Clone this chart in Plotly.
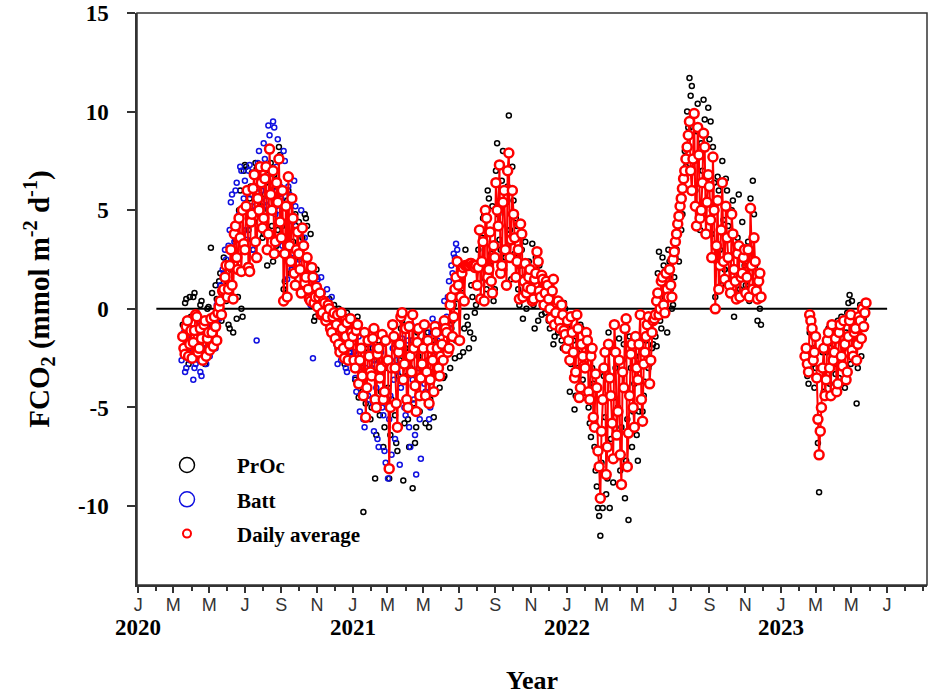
import plotly.graph_objs as go
import pandas as pd

# FCO2 (mmol m-2 d-1).
# Two interleaved samplings (a / b), each one value every 4 days.
avg_start_a = "2020-03-17"
avg_vals_a = [
    -1.4, -2.3, -0.6, -1.8,                          # Mar 2020
    -2.5, -1.1, -0.4, -2.0, -1.5, -0.8, -2.4, -1.2,  # Apr
    -0.5, -1.9, -0.9, -0.2, 0.4, 0.9, 1.6,           # May
    0.6, 2.2, 1.2, 3.8, 2.6, 4.6, 1.9, 3.3,          # Jun
    5.2, 2.1, 4.4, 6.1, 3.4, 5.6, 7.2, 4.1,          # Jul
    6.6, 3.0, 8.1, 5.0, 2.8, 6.4, 7.6,               # Aug
    3.6, 0.4, 5.2, 6.7, 2.4, 4.6, 1.2, 3.9,          # Sep
    2.0, 4.1, 1.3, 2.6, 0.5, 2.1, 0.3, 1.1,          # Oct
    0.6, -0.3, 0.4, -0.6, 0.2, -1.0, -0.4,           # Nov
    -1.5, -0.3, -2.2, -1.0, -2.5, -0.7, -1.8, -1.2,  # Dec
    -2.6, -1.1, -3.8, -2.0, -4.4, -5.5, -1.6, -3.2,  # Jan 2021
    -1.5, -4.6, -2.3, -3.5, -1.3, -4.2, -2.7,        # Feb
    -8.1, -3.0, -1.4, -4.8, -2.2, -0.4, -3.6,        # Mar
    -1.0, -5.0, -2.4, -0.3, -3.9, -1.7, -4.4, -2.8,  # Apr
    -0.8, -3.2, -4.8, -2.0, -4.2, -1.2, -3.0, -2.4,  # May
    -2.6, -1.0, -2.2, 0.2, -1.4, 1.0, 2.4,           # Jun
    -1.6, 1.8, 0.4, 2.2, 2.2, 2.3, 2.2, 2.2,         # Jul
    2.1, 0.5, 3.4, 5.0, 1.6, 3.9, 0.8, 2.6,          # Aug
    5.0, 7.3, 2.2, 6.0, 1.2, 7.9, 3.5,               # Sep
    4.8, 1.6, 3.0, 4.3, 0.6, 2.3, 1.1, 2.0,          # Oct
    0.4, 1.5, 2.9, 0.9, 1.7, 0.2, 1.4,               # Nov
    0.5, -0.5, 1.5, -0.2, 0.4, -1.0, -0.3, -1.3,     # Dec
    -0.6, -2.6, -1.2, -3.5, -0.3, -4.5, -1.8, -2.9,  # Jan 2022
    -1.2, -4.2, -2.4, -5.5, -3.3, -7.2, -9.6,        # Feb
    -4.6, -2.2, -7.0, -3.5, -5.8, -0.8, -6.4, -2.6,  # Mar
    -8.9, -4.0, -0.5, -6.3, -2.3, -5.0, -1.4,        # Apr
    -3.6, -0.3, -5.7, -2.2, -0.8, -3.8, -1.2, -0.5,  # May
    0.4, -0.3, 1.4, 0.2, 1.8, 0.6, 1.2,              # Jun
    2.5, 3.4, 4.3, 5.2, 6.1, 7.0, 8.2, 9.5,          # Jul
    6.0, 9.9, 4.2, 7.8, 5.0, 8.9, 3.8, 6.8,          # Aug
    4.5, 7.7, 0.0, 5.5, 2.2, 6.4, 1.5,               # Sep
    3.6, 1.2, 4.8, 2.0, 0.5, 3.2, 1.6, 2.6,          # Oct
    0.8, 3.0, 5.1, 1.0, 2.4, 0.5, 1.8,               # Nov
]
avg_start_b = "2020-03-19"
avg_vals_b = [
    -2.0, -0.9, -2.4, -1.1,                          # Mar 2020
    -1.7, -0.3, -2.2, -1.0, -2.6, -0.6, -1.5,        # Apr
    -2.1, -1.2, -0.4, -1.6, 0.1, -0.3, 1.0, 2.2,     # May
    1.0, 3.0, 0.5, 4.2, 2.0, 3.6, 5.0,               # Jun
    3.0, 6.0, 1.9, 4.8, 6.8, 2.6, 5.0, 6.4,          # Jul
    4.6, 7.2, 3.8, 5.8, 7.0, 3.4, 5.4, 4.4,          # Aug
    6.0, 2.8, 0.6, 3.2, 5.6, 1.8, 3.0,               # Sep
    2.8, 0.8, 3.2, 1.6, 1.0, 0.4, 1.6, 0.6,          # Oct
    0.1, 0.8, -0.2, 0.3, -0.4, 0.0, -1.2, -0.2,      # Nov
    -0.8, -1.8, -0.2, -2.0, -1.4, -2.6, -0.5,        # Dec
    -1.4, -3.0, -0.8, -2.6, -3.4, -1.2, -4.0, -2.4,  # Jan 2021
    -3.4, -1.0, -5.0, -2.0, -3.0, -4.6, -1.6,        # Feb
    -2.6, -5.0, -0.8, -3.0, -6.0, -1.8, -0.2, -2.8,  # Mar
    -4.6, -0.9, -3.2, -2.0, -5.2, -1.0, -3.5,        # Apr
    -2.0, -4.4, -1.6, -3.6, -2.6, -0.9, -2.0, -3.4,  # May
    -1.8, -0.6, -1.2, -2.0, 0.6, -0.4, 1.6, 1.2,     # Jun
    0.6, 2.1, 2.2, 2.2, 2.3, 2.2, 2.1,               # Jul
    1.2, 4.0, 2.4, 0.4, 4.6, 2.0, 1.4, 3.2,          # Aug
    6.4, 4.2, 1.8, 5.4, 3.0, 7.0, 2.6, 6.0,          # Sep
    3.6, 2.4, 0.5, 3.8, 1.4, 0.8, 1.6,               # Oct
    1.0, 0.5, 1.8, 2.4, 0.6, 1.5, 0.8, 1.2,          # Nov
    0.0, 0.9, -0.8, 0.3, -0.6, 0.2, -1.1, -2.0,      # Dec
    -1.6, -0.4, -2.2, -3.2, -1.0, -4.0, -2.4,        # Jan 2022
    -3.0, -1.6, -4.6, -2.0, -6.0, -4.0, -8.0,        # Feb
    -6.2, -3.0, -8.4, -1.8, -4.4, -7.6, -2.2, -5.2,  # Mar
    -7.4, -3.2, -1.0, -8.0, -4.4, -1.8, -6.0, -3.0,  # Apr
    -1.8, -4.6, -2.8, -1.4, -0.4, -2.6, -0.6,        # May
    -0.3, 0.8, 0.0, 1.6, -0.2, 1.0, 2.0, 0.6,        # Jun
    2.9, 3.8, 4.7, 5.6, 6.6, 7.6, 8.8, 7.0,          # Jul
    7.6, 5.2, 9.2, 4.6, 6.4, 8.2, 5.4,               # Aug
    6.2, 2.6, 5.0, 3.2, 1.0, 4.0, 2.4, 5.2,          # Sep
    2.6, 0.8, 3.8, 1.4, 2.8, 0.6, 1.8, 3.0,          # Oct
    1.6, 0.6, 2.2, 3.6, 0.9, 1.4, 0.6,               # Nov
]
avg_start_2023_a = "2023-02-11"
avg_vals_2023_a = [-2.4, -2.8, -0.3, -1.0, -2.2, -3.5, -7.4, -5.0, -2.0, -3.6,
                   -1.2, -4.4, -2.6, -1.5, -3.8, -0.8, -2.9, -1.8, -3.2, -0.6,
                   -2.1, -1.2, -2.6, -0.4, -1.5, -0.9, 0.3]
avg_start_2023_b = "2023-02-13"
avg_vals_2023_b = [-2.0, -3.2, -0.6, -2.6, -1.4, -5.6, -6.2, -3.0, -4.4, -1.6,
                   -3.0, -0.8, -2.2, -4.2, -1.2, -2.4, -0.6, -3.6, -1.4, -0.3,
                   -2.4, -1.0, -1.8, -0.6, 0.0, -0.2]

# PrOc sensor, on the same dates as the daily averages
proc_vals_a = [
    -0.8, 0.3, -2.0, 0.6,
    -1.8, 0.8, -0.2, -2.6, 0.4, -1.2, -2.0, 0.1,
    3.1, -0.6, 1.2, 0.2, 1.8, -0.2, 0.6,
    1.4, -1.0, 0.5, 2.8, -0.5, 5.0, 0.0, 7.0,
    7.2, 4.0, 6.2, 3.0, 7.4, 5.0, 6.6, 3.6,
    5.8, 2.2, 7.0, 4.2, 6.8, 3.2, 8.2,
    2.8, 1.0, 4.4, 6.0, 1.8, 3.4, 4.8, 2.6,
    1.0, 3.6, 4.8, 4.2, 2.0, 0.5, -0.6, 2.0,
    -0.2, 0.7, 0.2, -0.5, 0.3, -0.8, 0.0,
    -0.6, -2.0, -0.2, -1.6, -2.8, -0.2, -1.3, -2.4,
    -3.0, -0.6, -4.5, -1.2, -10.3, -4.8, -2.2, -5.6,
    -2.0, -8.6, -3.2, -5.4, -1.8, -6.0, -4.2,
    -8.6, -4.6, -2.0, -6.8, -3.4, -1.0, -8.7,
    -2.0, -5.6, -3.0, -9.1, -6.8, -1.2, -5.2, -3.6,
    -1.6, -4.6, -6.0, -2.6, -5.5, -0.8, -3.5, -2.2,
    -3.5, -2.1, -1.2, -3.0, -0.6, -2.5, 0.5,
    -2.4, 0.8, -1.0, -0.4, -2.0, 1.2, -1.5, 0.2,
    3.0, 0.4, 4.6, 1.5, 6.0, 2.2, 5.2, 1.0,
    8.4, 3.5, 6.5, 2.0, 5.4, 9.8, 1.5,
    5.5, 4.6, 1.0, 2.2, -0.5, 3.4, 0.6, 1.4,
    3.3, -1.0, 0.6, 2.2, -0.3, 1.0, 0.0,
    -0.6, 0.8, -1.8, 0.2, -1.2, -0.4, -2.0, 0.0,
    -1.5, -4.2, -0.4, -5.1, -2.2, -4.0, -1.0, -3.0,
    -2.4, -5.0, -6.5, -3.8, -8.2, -10.1, -11.5,
    -10.1, -5.5, -8.6, -10.1, -2.2, -4.5, -7.5, -1.5,
    -6.0, -1.8, -7.7, -10.7, -3.0, -5.2, -2.4,
    -7.7, -1.5, -5.2, -3.7, -0.8, -2.8, -2.0, -1.2,
    -1.9, 2.9, -1.0, 2.2, -0.3, 3.0, 1.0,
    0.2, 2.6, 3.8, 5.6, 4.8, 8.0, 10.0, 11.7,
    11.3, 7.5, 9.0, 5.0, 8.4, 10.6, 3.8, 10.2,
    9.5, 8.2, 0.6, 6.7, 3.0, 7.5, 2.0,
    6.0, 1.5, 5.0, -0.4, 3.2, 5.8, 0.8, 2.6,
    1.2, 3.4, 5.6, 6.5, 2.2, -0.6, 0.0,
]
proc_vals_b = [
    -1.5, 0.5, -2.8, -0.4,
    0.6, -2.4, -0.5, 0.2, -1.4, -2.8, 0.0,
    -1.0, 0.8, -0.8, 0.5, 1.4, -0.6, 2.6, 0.4,
    -0.8, 2.0, -1.2, 3.5, 0.6, 6.0, -0.4,
    7.3, 2.2, 5.6, 6.9, 4.4, 7.1, 2.6, 5.2,
    3.8, 6.4, 5.0, 7.4, 2.4, 6.2, 4.0, 7.8,
    4.2, 1.4, 5.5, 3.0, 2.0, 4.0, 1.2,
    4.4, 3.0, 2.6, 4.6, 0.8, 3.8, 1.5, -0.4,
    0.4, -0.3, 0.8, 0.0, -0.6, 0.5, -0.9, 0.2,
    -1.0, 0.0, -1.8, -0.8, -2.4, -0.4, -2.0,
    -1.2, -3.6, -0.4, -2.8, -4.2, -5.6, -1.8, -3.4,
    -5.0, -2.6, -6.4, -1.6, -4.2, -7.0, -3.0,
    -4.0, -6.4, -1.5, -5.4, -7.2, -2.6, -0.6, -5.8,
    -3.4, -7.0, -1.6, -4.8, -6.0, -2.4, -4.4,
    -3.0, -5.8, -1.2, -4.6, -3.2, -1.6, -2.6, -4.0,
    -2.4, -3.4, -0.8, -2.0, -1.0, 0.2, -1.6, 1.0,
    1.6, -2.2, 3.0, -0.8, -1.2, 0.6, -0.2,
    2.0, 0.6, 3.6, 4.8, 1.0, 5.6, 2.8, 0.4,
    7.0, 4.8, 3.0, 8.0, 2.6, 6.2, 4.0, 7.2,
    2.8, 4.2, 0.2, 3.0, 1.6, 0.0, 2.4,
    1.6, 0.2, 2.6, -0.6, 1.4, 0.4, -0.2, 0.8,
    -1.0, 0.4, -1.4, 0.0, -0.8, -1.6, 0.3, -2.0,
    -0.8, -2.8, -1.6, -4.4, -3.0, -0.8, -3.6,
    -4.5, -1.8, -5.8, -3.0, -7.0, -9.0, -10.5,
    -7.8, -3.4, -9.4, -1.2, -6.6, -8.8, -3.0, -5.0,
    -8.2, -2.6, -9.6, -5.6, -1.4, -7.0, -3.8, -6.4,
    -5.2, -2.2, -4.4, -1.6, -3.0, -0.6, -1.8,
    -1.4, 1.8, -0.6, 2.6, 0.6, -1.2, 2.4, 0.0,
    1.6, 3.0, 2.4, 4.0, 6.8, 7.2, 9.2, 10.8,
    9.0, 6.0, 10.4, 4.0, 7.0, 9.6, 5.5,
    8.6, 3.8, 6.4, 2.4, 6.0, 1.2, 4.5, 6.6,
    4.2, 2.0, 5.5, 0.6, 3.6, 1.0, 4.4, 2.2,
    2.0, 0.4, 3.0, 4.8, 1.2, 0.8, -0.8,
]
proc_vals_2023_a = [-2.0, -3.4, -1.2, -2.8, -4.0, -5.5, -9.3, -3.0, -4.2, -2.2,
                    -1.0, -3.0, -1.8, -3.3, -0.6, -2.4, -1.5, -4.0, -0.2, 0.7,
                    0.4, -1.0, -4.8, -1.3, -2.4, -0.5, 0.2]
proc_vals_2023_b = [-2.6, -3.8, -0.8, -2.0, -3.0, -6.8, -5.0, -2.2, -3.6, -1.4,
                    -3.8, -2.6, -1.0, -2.8, -3.5, -0.4, -2.0, -1.2, 0.3, -2.8,
                    -0.8, -1.6, -3.0, 0.2, -0.6, -1.0]

# Batt sensor, Mar 2020 - Jun 2021
batt_start_a = "2020-03-15"
batt_vals_a = [
    -2.6, -1.2, -3.0, -2.2, -1.6,                    # Mar 2020
    -3.6, -2.8, -1.0, -3.2, -2.0, -2.6, -0.8,        # Apr
    -2.4, -1.5, -0.4, 0.2, -0.5, 0.8, 1.8, 2.5,      # May
    3.2, 5.4, 2.8, 6.0, 4.4, 7.2, 5.0,               # Jun
    6.5, 3.5, 7.3, 5.2, 6.8, -1.6, 8.0, 6.0,         # Jul
    8.4, 5.5, 9.3, 7.0, 9.5, 4.8, 8.6, 6.2,          # Aug
    3.2, 7.5, 1.5, 5.8, 2.0, 6.5, 4.0,               # Sep
    2.5, 5.0, 0.8, 3.2, 1.5, 0.2, -2.5, 1.0,         # Oct
    1.5, 0.3, 0.8, -0.5, 1.0, -0.3, 0.6, -1.0,       # Nov
    -1.8, -0.4, -2.6, -1.2, -3.0, -0.6, -2.2,        # Dec
    -1.5, -3.5, -2.8, -5.2, -3.8, -6.0, -2.4, -4.6,  # Jan 2021
    -3.0, -6.2, -4.0, -7.0, -2.2, -5.4, -7.8,        # Feb
    -8.6, -4.4, -2.0, -6.6, -3.2, -7.9, -1.5, -5.0,  # Mar
    -2.6, -6.0, -0.8, -4.6, -8.4, -3.0, -7.6,        # Apr
    -1.0, -4.2, -2.6, -5.0, -0.5, -3.4, -1.6, -2.8,  # May
    -1.2, 0.4, -0.4, 1.4, 2.2, 2.8, 3.3,             # Jun
]
batt_start_b = "2020-03-17"
batt_vals_b = [
    -2.0, -3.2, -1.4, -2.6,
    -1.8, -3.0, -2.4, -0.6, -3.4, -1.4, -2.8, -1.0,
    -1.8, -0.8, -2.0, 0.4, 1.2, 2.0, 3.0,
    2.2, 4.0, 5.8, 3.4, 6.4, 4.8, 7.0, 5.6,
    4.0, 7.0, 5.8, 3.0, 6.2, 7.4, 4.8, 6.6,
    7.6, 5.2, 8.8, 6.0, 9.2, 7.2, 5.0,
    5.6, 8.0, 3.6, 6.2, 2.6, 4.4, 5.2, 3.0,
    4.0, 1.8, 3.6, 1.2, 0.4, 2.0, 0.8, 1.6,
    0.9, 1.6, -0.2, 0.4, -0.8, 0.2, -0.5,
    -1.4, -2.8, -0.8, -2.0, -1.6, -3.2, -1.0, -2.4,
    -2.2, -4.2, -1.4, -3.2, -5.6, -3.0, -4.4, -2.0,
    -4.8, -2.6, -6.6, -3.6, -5.0, -7.2, -2.8,
    -5.6, -7.4, -3.6, -2.6, -6.0, -4.0, -2.0,
    -5.4, -1.6, -7.0, -3.6, -6.4, -2.0, -5.6, -3.2,
    -3.8, -2.0, -5.6, -1.2, -4.2, -2.2, -0.8, -3.0,
    -2.0, -0.6, 0.6, -1.0, 1.8, 2.6, 3.0,
]

tick_dates = pd.date_range("2020-01-01", "2023-07-01", freq="2MS")
tick_letters = ["J", "M", "M", "J", "S", "N"] * 3 + ["J", "M", "M", "J"]
years = ["2020", "2021", "2022", "2023"]
y_ticks = [-10, -5, 0, 5, 10, 15]
zero_span = ["2020-02-01", "2023-07-01"]


def series(start, vals):
    return pd.Series(vals, index=pd.date_range(start, periods=len(vals), freq="4D"))


avg_1 = pd.concat([series(avg_start_a, avg_vals_a), series(avg_start_b, avg_vals_b)]).sort_index()
avg_2 = pd.concat([series(avg_start_2023_a, avg_vals_2023_a),
                   series(avg_start_2023_b, avg_vals_2023_b)]).sort_index()
proc = pd.concat([series(avg_start_a, proc_vals_a), series(avg_start_b, proc_vals_b),
                  series(avg_start_2023_a, proc_vals_2023_a),
                  series(avg_start_2023_b, proc_vals_2023_b)])
batt = pd.concat([series(batt_start_a, batt_vals_a), series(batt_start_b, batt_vals_b)])

serif = "Liberation Serif"
blue = "#1010e0"
axis_grey = "#333"

fig = go.Figure()
fig.add_trace(go.Scatter(
    x=proc.index, y=proc.values, mode="markers", showlegend=False,
    marker=dict(symbol="circle-open", size=5, color="black", line=dict(width=1.5))))
fig.add_trace(go.Scatter(
    x=batt.index, y=batt.values, mode="markers", showlegend=False,
    marker=dict(symbol="circle-open", size=5, color=blue, line=dict(width=1.5))))
fig.add_trace(go.Scatter(
    x=zero_span, y=[0, 0], mode="lines", showlegend=False,
    line=dict(color="black", width=2)))
fig.add_trace(go.Scatter(
    x=list(avg_1.index) + [None] + list(avg_2.index),
    y=list(avg_1.values) + [None] + list(avg_2.values),
    mode="lines+markers", showlegend=False, connectgaps=False,
    line=dict(color="red", width=2),
    marker=dict(symbol="circle", size=9, color="white", line=dict(color="red", width=2.5))))

# legend entries
fig.add_trace(go.Scatter(x=[None], y=[None], mode="markers", name="PrOc", legendgroup="a",
                         marker=dict(symbol="circle-open", size=15, color="black", line=dict(width=1.5))))
fig.add_trace(go.Scatter(x=[None], y=[None], mode="markers", name="Batt", legendgroup="b",
                         marker=dict(symbol="circle-open", size=15, color=blue, line=dict(width=1.5))))
fig.add_trace(go.Scatter(x=[None], y=[None], mode="markers", name="Daily average", legendgroup="c",
                         marker=dict(symbol="circle", size=8, color="white", line=dict(color="red", width=2))))

for yr in years:
    fig.add_annotation(x=yr + "-01-01", xref="x", y=-0.075, yref="paper", text=yr,
                       showarrow=False, yanchor="middle",
                       font=dict(family=serif, size=23, color="black", weight="bold"))

# frame around the plot area
fig.add_shape(type="rect", xref="paper", yref="paper", x0=0, x1=1, y0=0, y1=1,
              line=dict(color=axis_grey, width=1.5), layer="above")

fig.update_layout(
    width=936, height=695,
    margin=dict(l=137, r=9, t=13, b=110),
    plot_bgcolor="white", paper_bgcolor="white",
    legend=dict(x=0.0, y=0.245, xanchor="left", yanchor="top", itemwidth=90,
                tracegroupgap=4, traceorder="grouped", bgcolor="rgba(0,0,0,0)",
                font=dict(family=serif, size=21, color="black", weight="bold")),
    xaxis=dict(
        type="date", range=["2019-12-30", "2023-09-07"], automargin=False,
        tickmode="array", tickvals=tick_dates, ticktext=tick_letters,
        ticks="outside", ticklen=6, tickwidth=1.5, tickcolor=axis_grey,
        showline=True, linecolor=axis_grey, linewidth=1.5,
        showgrid=False, zeroline=False, ticklabelstandoff=-3,
        tickfont=dict(family="Liberation Sans", size=18, color=axis_grey),
        minor=dict(dtick="M1", tick0="2020-01-01", ticks="outside", ticklen=4,
                   tickwidth=1.5, tickcolor=axis_grey, showgrid=False),
        title=dict(text="Year", standoff=58,
                   font=dict(family=serif, size=26, color="black", weight="bold")),
    ),
    yaxis=dict(
        range=[-14, 15], automargin=False,
        tickmode="array", tickvals=y_ticks, ticktext=[str(v) for v in y_ticks],
        ticks="outside", ticklen=8, tickwidth=1.5, tickcolor=axis_grey,
        showline=True, linecolor=axis_grey, linewidth=1.5,
        showgrid=False, zeroline=False, ticklabelstandoff=14,
        ticklabeloverflow="allow",
        tickfont=dict(family=serif, size=23, color="black", weight="bold"),
        title=dict(text="FCO<sub>2</sub> (mmol m<sup>-2</sup> d<sup>-1</sup>)", standoff=20,
                   font=dict(family=serif, size=29, color="black", weight="bold")),
    ),
)

# drop the browser's default body margin so the figure fills the window
fig.write_html("out.html", config={"displayModeBar": False},
               post_script="document.body.style.margin = '0';")
